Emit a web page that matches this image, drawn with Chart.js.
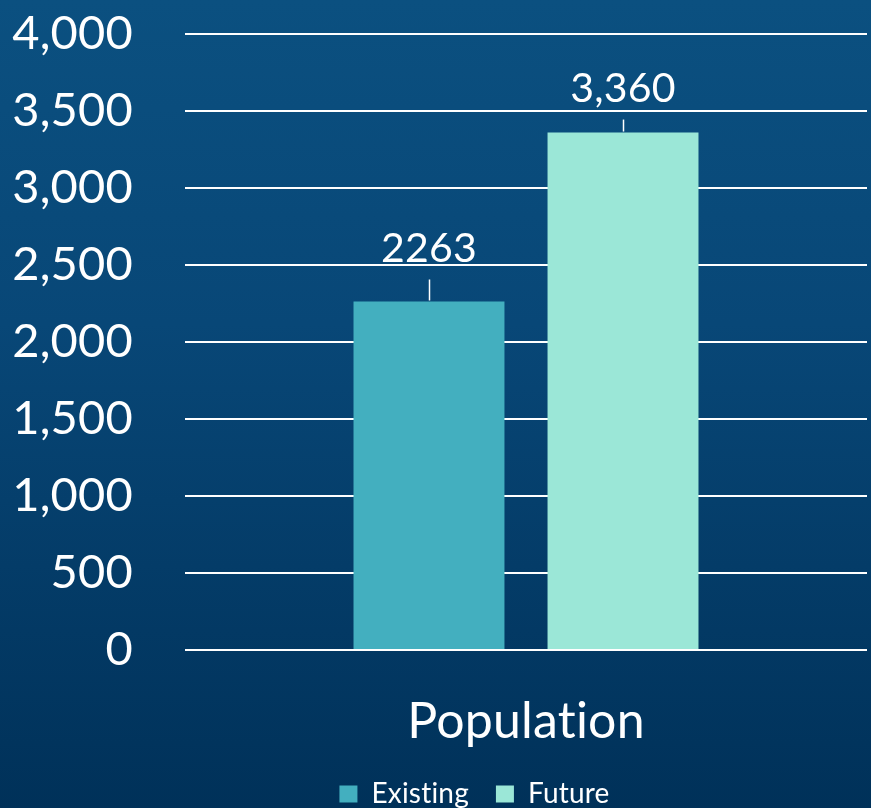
<!DOCTYPE html>
<html><head><meta charset="utf-8">
<script src="https://cdn.jsdelivr.net/npm/chart.js@4"></script>
<style>
html,body{margin:0;padding:0;width:871px;height:808px;overflow:hidden;
background:linear-gradient(180deg,#0b5080 0%,#084777 40%,#003159 100%);}
canvas{display:block}
</style></head><body>
<canvas id="c" width="871" height="808"></canvas>
<script>
const categories = ["Population"];
const seriesNames = ["Existing", "Future"];
const existingValues = [2263];
const futureValues = [3360];
const valueLabels = [["2263"], ["3,360"]];
const yMin = 0, yMax = 4000, yStep = 500;

const FONT = "Lato, 'Open Sans', sans-serif";

const noLigaturePlugin = {
  id: 'noLig',
  beforeLayout(chart) { chart.ctx.letterSpacing = '0.2px'; },
  afterLayout(chart) {
    const l = chart.legend;
    if (l) { l.left += 41; l.right += 41; }
  },
  beforeDraw(chart) { chart.ctx.letterSpacing = '0.2px'; }
};

const valueLabelPlugin = {
  id: 'valueLabels',
  afterDatasetsDraw(chart, args, opts) {
    const ctx = chart.ctx;
    chart.data.datasets.forEach((ds, i) => {
      const meta = chart.getDatasetMeta(i);
      meta.data.forEach((bar, j) => {
        const x = bar.x, y = bar.y;
        ctx.save();
        ctx.strokeStyle = '#ffffff';
        ctx.lineWidth = 1.5;
        ctx.beginPath();
        ctx.moveTo(Math.round(x) + 0.5, y - 1);
        ctx.lineTo(Math.round(x) + 0.5, y - opts.leader[i]);
        ctx.stroke();
        ctx.fillStyle = '#ffffff';
        ctx.font = "41px " + FONT;
        ctx.textAlign = 'center';
        ctx.textBaseline = 'alphabetic';
        ctx.fillText(valueLabels[i][j], x, y - opts.offset[i]);
        ctx.restore();
      });
    });
  }
};

new Chart(document.getElementById('c'), {
  type: 'bar',
  data: {
    labels: categories,
    datasets: [
      { label: seriesNames[0], data: existingValues, backgroundColor: '#43afbf', borderWidth: 0,
        categoryPercentage: 0.569, barPercentage: 0.778 },
      { label: seriesNames[1], data: futureValues, backgroundColor: '#9be7d7', borderWidth: 0,
        categoryPercentage: 0.569, barPercentage: 0.778 }
    ]
  },
  options: {
    responsive: false,
    animation: false,
    layout: { padding: { top: 34, right: 4, left: 0, bottom: -10 } },
    scales: {
      x: {
        afterFit(scale) { scale.height = 103; },
        grid: { display: false },
        border: { display: false },
        ticks: { color: '#ffffff', font: { family: FONT, size: 50 }, padding: 34 }
      },
      y: {
        min: yMin, max: yMax,
        afterFit(scale) { scale.width = 185; scale.paddingTop = 0; scale.paddingBottom = 0; },
        grid: { color: '#ffffff', lineWidth: 2, drawTicks: false },
        border: { display: false },
        ticks: {
          stepSize: yStep,
          color: '#ffffff',
          font: { family: FONT, size: 47 },
          padding: 52,
          callback: v => v.toLocaleString('en-US')
        }
      }
    },
    plugins: {
      legend: {
        position: 'bottom',
        labels: { color: '#ffffff', font: { family: FONT, size: 28, lineHeight: 1 }, boxWidth: 18, boxHeight: 17, padding: 27 }
      },
      tooltip: { enabled: false },
      valueLabels: { offset: [39, 31], leader: [22, 13] }
    }
  },
  plugins: [noLigaturePlugin, valueLabelPlugin]
});
</script>
</body></html>
